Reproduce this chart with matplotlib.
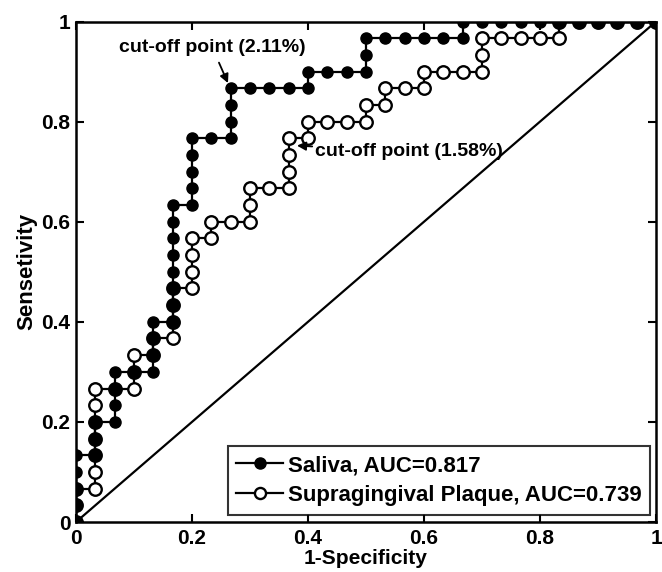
import numpy as np
import matplotlib
matplotlib.use("Agg")
import matplotlib.pyplot as plt

plt.rcParams['font.family'] = ['Liberation Sans', 'DejaVu Sans']
plt.rcParams['font.weight'] = 'bold'

N = 30  # cases per group (steps of 1/30)

# Saliva ROC points, counted in steps of 1/30
sal_fp = [0, 0, 0, 0, 0, 1, 1, 1, 2, 2, 2, 2, 3, 4, 4, 4, 4,
          5, 5, 5, 5, 5, 5, 5, 5, 6, 6, 6, 6, 6, 7, 8, 8, 8, 8,
          9, 10, 11, 12, 12, 13, 14, 15, 15, 15, 16, 17, 18, 19, 20, 20,
          21, 22, 23, 24, 25, 26, 27, 28, 29, 30]
sal_tp = [0, 1, 2, 3, 4, 4, 5, 6, 6, 7, 8, 9, 9, 9, 10, 11, 12,
          12, 13, 14, 15, 16, 17, 18, 19, 19, 20, 21, 22, 23, 23, 23, 24, 25, 26,
          26, 26, 26, 26, 27, 27, 27, 27, 28, 29, 29, 29, 29, 29, 29, 30,
          30, 30, 30, 30, 30, 30, 30, 30, 30, 30]

# Supragingival plaque ROC points
pla_fp = [0, 0, 0, 1, 1, 1, 1, 1, 1, 1, 2, 3, 3, 3, 4, 4,
          5, 5, 5, 5, 6, 6, 6, 6, 7, 7, 8, 9, 9, 9, 10, 11, 11, 11, 11,
          12, 12, 13, 14, 15, 15, 16, 16, 17, 18, 18, 19, 20, 21, 21, 21,
          22, 23, 24, 25, 25, 26, 27, 28, 29, 30]
pla_tp = [0, 1, 2, 2, 3, 4, 5, 6, 7, 8, 8, 8, 9, 10, 10, 11,
          11, 12, 13, 14, 14, 15, 16, 17, 17, 18, 18, 18, 19, 20, 20, 20, 21, 22, 23,
          23, 24, 24, 24, 24, 25, 25, 26, 26, 26, 27, 27, 27, 27, 28, 29,
          29, 29, 29, 29, 30, 30, 30, 30, 30, 30]

labels = ['Saliva, AUC=0.817', 'Supragingival Plaque, AUC=0.739']

sal_x = np.array(sal_fp) / N
sal_y = np.array(sal_tp) / N
pla_x = np.array(pla_fp) / N
pla_y = np.array(pla_tp) / N

fig = plt.figure(figsize=(6.62, 5.72), dpi=100)
ax = fig.add_axes([0.1148, 0.0874, 0.8762, 0.875])

ax.plot([0, 1], [0, 1], color='k', lw=1.6)
l2, = ax.plot(pla_x, pla_y, '-o', color='k', lw=1.6, ms=9, mfc='white', mec='k', mew=1.7)
l1, = ax.plot(sal_x, sal_y, '-o', color='k', lw=1.6, ms=8, mfc='k', mec='k', mew=1)

ax.set_xlim(0, 1)
ax.set_ylim(0, 1)
ticks = [0, 0.2, 0.4, 0.6, 0.8, 1]
tick_labels = ['0', '0.2', '0.4', '0.6', '0.8', '1']
ax.set_xticks(ticks)
ax.set_xticklabels(tick_labels)
ax.set_yticks(ticks)
ax.set_yticklabels(tick_labels)
ax.tick_params(direction='in', length=6, width=1.5, top=True, right=True,
               labelsize=15)
ax.tick_params(axis='x', pad=5)
ax.tick_params(axis='y', pad=4)
for s in ax.spines.values():
    s.set_linewidth(1.8)
    s.set_clip_on(False)

ax.set_xlabel('1-Specificity', fontsize=15, fontweight='bold', labelpad=1)
ax.set_ylabel('Sensetivity', fontsize=16, fontweight='bold', labelpad=3)

ax.annotate('cut-off point (2.11%)', xy=(0.262, 0.877), xytext=(0.235, 0.948),
            ha='center', va='center', fontsize=14, fontweight='bold',
            arrowprops=dict(arrowstyle='-|>', color='k', lw=1.3, mutation_scale=13,
                            shrinkA=3, shrinkB=0))
ax.annotate('cut-off point (1.58%)', xy=(0.381, 0.752), xytext=(0.412, 0.74),
            ha='left', va='center', fontsize=14, fontweight='bold',
            arrowprops=dict(arrowstyle='-|>', color='k', lw=1.3, mutation_scale=13,
                            shrinkA=0, shrinkB=0))

leg = ax.legend([l1, l2], labels, loc='lower right', fontsize=16, frameon=True,
                fancybox=False, edgecolor='k', handlelength=2.1, handletextpad=0.2,
                borderpad=0.4, labelspacing=0.4, borderaxespad=0,
                bbox_to_anchor=(0.99, 0.014))
leg.get_frame().set_linewidth(1.5)
for h in leg.legend_handles:
    h.set_markersize(8)

fig.savefig('out.png', dpi=100)
